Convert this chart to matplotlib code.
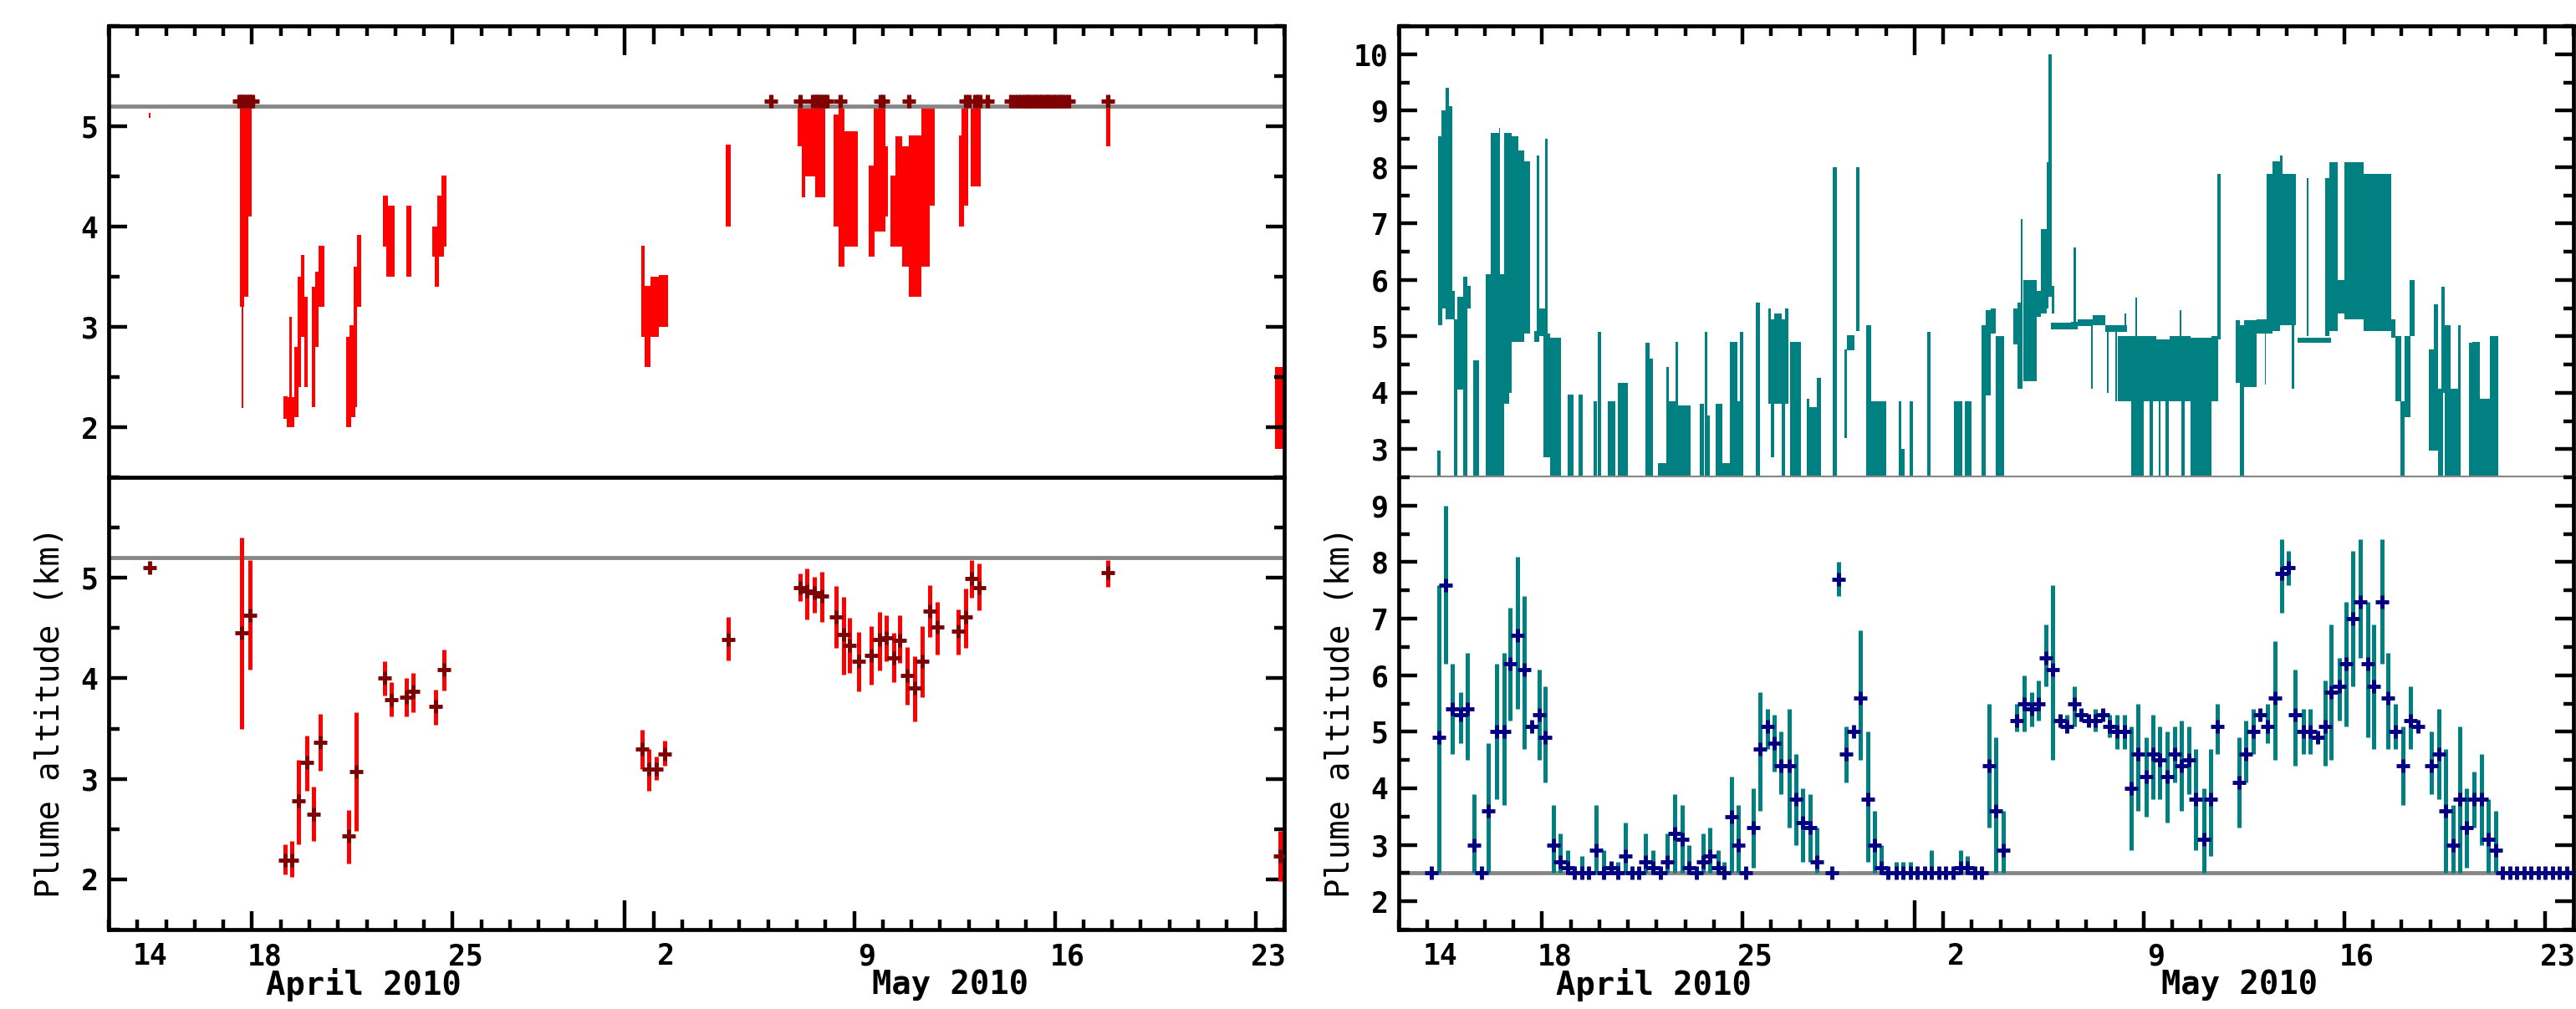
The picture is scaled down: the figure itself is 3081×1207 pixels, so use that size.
import numpy as np
import matplotlib
matplotlib.use('Agg')
from matplotlib import pyplot as plt
from matplotlib.ticker import MultipleLocator
import matplotlib.transforms as mtransforms

plt.rcParams['font.family'] = 'DejaVu Sans Mono'
plt.rcParams['font.weight'] = 'bold'

# time = days counted from 1 April 2010 00:00  (1 May = 31, 23 May = 53)
tick_days = [14, 18, 25, 31, 32, 39, 46, 53]
tick_labels = ['14', '18', '25', '', '2', '9', '16', '23']

# ---------------- left, top : retrieved altitude ranges (red) ----------------
lt_t0 = [14.40, 17.59, 17.63, 17.72, 17.87, 19.10, 19.22, 19.30, 19.47, 19.60,
         19.72, 19.82, 20.10, 20.20, 20.32, 21.27, 21.40, 21.55, 21.65, 22.57,
         22.68, 23.37, 24.28, 24.36, 24.47, 24.62, 31.57, 31.68, 31.90, 32.20,
         34.53, 37.03, 37.18, 37.30, 37.63, 38.27, 38.45, 38.67, 39.52, 39.68,
         40.01, 40.28, 40.43, 40.68, 40.90, 41.35, 41.65, 42.66, 42.76, 43.06,
         47.78, 53.67]
lt_t1 = [14.47, 17.72, 17.70, 17.87, 17.99, 19.25, 19.47, 19.40, 19.62, 19.72,
         19.82, 19.95, 20.20, 20.32, 20.52, 21.45, 21.60, 21.65, 21.80, 22.75,
         22.98, 23.57, 24.39, 24.51, 24.70, 24.77, 31.68, 31.90, 32.20, 32.52,
         34.70, 37.18, 37.30, 37.63, 38.00, 38.45, 38.67, 39.12, 39.71, 40.08,
         40.19, 40.46, 40.68, 40.90, 41.35, 41.65, 41.82, 42.84, 42.98, 43.43,
         47.93, 53.97]
lt_lo = [5.08, 3.2, 2.19, 3.3, 4.1, 2.08, 2.0, 2.3, 2.1, 2.4,
         2.9, 2.4, 2.2, 2.8, 3.2, 2.0, 2.1, 2.2, 3.2, 3.8,
         3.5, 3.5, 3.7, 3.4, 3.7, 3.8, 2.9, 2.6, 2.9, 3.0,
         4.0, 4.8, 4.29, 4.5, 4.29, 4.0, 3.6, 3.8, 3.7, 3.95,
         4.1, 3.8, 3.8, 3.6, 3.3, 3.6, 4.21, 4.0, 4.21, 4.4,
         4.8, 1.78]
lt_hi = [5.13, 5.2, 3.2, 5.2, 5.2, 2.31, 2.3, 3.1, 2.8, 3.5,
         3.72, 3.3, 3.4, 3.55, 3.81, 2.9, 3.02, 3.6, 3.92, 4.31,
         4.21, 4.21, 4.0, 4.0, 4.31, 4.51, 3.81, 3.41, 3.5, 3.52,
         4.82, 5.2, 5.2, 5.2, 5.2, 5.12, 5.2, 4.95, 4.61, 5.2,
         4.8, 4.51, 4.9, 4.8, 4.91, 5.2, 5.2, 4.91, 5.2, 5.2,
         5.2, 2.6]
# times where the retrieval hit the top of the range (plotted at cap level)
lt_cap_t = [17.55, 17.62, 17.70, 17.78, 17.86, 17.94, 18.02, 36.11, 37.11, 37.55,
            37.63, 37.71, 37.79, 37.87, 37.95, 38.05, 38.52, 39.93, 40.00, 40.90,
            42.88, 43.00, 43.21, 43.30, 43.40, 43.65, 44.47, 44.60, 44.72, 44.85,
            44.95, 45.05, 45.15, 45.25, 45.35, 45.45, 45.55, 45.65, 45.75, 45.85,
            45.95, 46.05, 46.15, 46.25, 46.35, 46.48, 47.85]
cap_level = 5.25
left_ref = 5.2

# ---------------- left, bottom : averages with error bars ----------------
lb_t = [14.42, 17.65, 17.92, 19.14, 19.40, 19.63, 19.90, 20.15, 20.37, 21.38,
        21.63, 22.63, 22.87, 23.39, 23.61, 24.39, 24.68, 31.60, 31.85, 32.09,
        32.39, 34.62, 37.11, 37.36, 37.60, 37.88, 38.37, 38.62, 38.85, 39.15,
        39.59, 39.89, 40.11, 40.38, 40.60, 40.86, 41.12, 41.38, 41.65, 41.90,
        42.64, 42.88, 43.10, 43.36, 47.85, 53.85]
lb_v = [5.10, 4.45, 4.63, 2.19, 2.19, 2.78, 3.16, 2.65, 3.36, 2.43,
        3.07, 4.00, 3.79, 3.81, 3.87, 3.72, 4.09, 3.30, 3.10, 3.10,
        3.25, 4.39, 4.90, 4.87, 4.85, 4.82, 4.61, 4.44, 4.33, 4.17,
        4.23, 4.39, 4.40, 4.20, 4.38, 4.03, 3.90, 4.17, 4.67, 4.51,
        4.47, 4.61, 4.99, 4.90, 5.05, 2.23]
lb_hi = [5.10, 5.40, 5.18, 2.35, 2.38, 3.19, 3.43, 2.92, 3.65, 2.69,
         3.66, 4.17, 3.96, 4.00, 4.05, 3.89, 4.29, 3.49, 3.30, 3.22,
         3.38, 4.61, 5.04, 5.09, 5.01, 5.06, 4.92, 4.81, 4.60, 4.46,
         4.52, 4.66, 4.63, 4.45, 4.63, 4.31, 4.22, 4.52, 4.93, 4.76,
         4.69, 4.89, 5.18, 5.14, 5.18, 2.48]
lb_lo = [5.10, 3.50, 4.09, 2.05, 2.02, 2.35, 2.88, 2.38, 3.08, 2.16,
         2.48, 3.83, 3.62, 3.62, 3.66, 3.54, 3.88, 3.10, 2.88, 2.99,
         3.13, 4.18, 4.77, 4.59, 4.65, 4.56, 4.30, 4.04, 4.05, 3.87,
         3.94, 4.08, 4.17, 3.96, 4.15, 3.74, 3.57, 3.81, 4.41, 4.24,
         4.24, 4.30, 4.80, 4.68, 4.91, 1.98]

# ---------------- right, top : retrieved altitude ranges (teal) ----------------
rt_t0 = [14.33, 14.36, 14.48, 14.63, 14.75, 14.87, 14.93, 15.05, 15.26, 15.38,
         15.60, 16.04, 16.22, 16.49, 16.49, 16.67, 16.86, 16.94, 17.16, 17.38,
         17.72, 17.82, 17.90, 18.12, 18.05, 18.28, 18.91, 19.28, 19.80, 19.95,
         20.31, 20.65, 21.61, 21.76, 22.06, 22.33, 22.43, 22.65, 22.76, 23.51,
         23.69, 23.78, 24.07, 24.29, 24.56, 24.81, 24.92, 25.45, 25.89, 26.00,
         26.11, 26.38, 26.49, 26.67, 27.23, 27.34, 27.58, 28.15, 28.55, 28.64,
         28.97, 29.31, 29.49, 30.45, 30.55, 30.82, 31.45, 32.38, 32.75, 33.35,
         33.50, 33.65, 33.83, 34.46, 34.61, 34.70, 34.81, 34.99, 35.28, 35.40,
         35.61, 35.68, 35.80, 35.76, 36.47, 36.55, 36.70, 37.15, 37.22, 37.66,
         37.72, 38.02, 38.33, 38.11, 38.56, 38.70, 39.00, 39.22, 39.45, 39.52,
         39.75, 39.90, 40.25, 40.33, 40.64, 41.38, 41.58, 42.20, 42.35, 42.50,
         42.95, 43.22, 43.29, 43.50, 43.75, 43.85, 44.18, 44.36, 44.68, 45.33,
         45.48, 45.78, 46.00, 46.67, 47.63, 47.78, 47.97, 48.10, 48.28, 48.95,
         49.12, 49.27, 49.38, 49.50, 49.72, 49.97, 50.34, 50.46, 50.73, 51.09]
rt_t1 = [14.45, 14.51, 14.66, 14.75, 14.87, 14.96, 15.05, 15.26, 15.38, 15.50,
         15.79, 16.22, 16.49, 16.67, 16.54, 16.86, 16.94, 17.16, 17.38, 17.58,
         17.82, 17.90, 18.12, 18.20, 18.28, 18.65, 19.09, 19.41, 19.92, 20.05,
         20.57, 20.99, 21.76, 21.88, 22.33, 22.43, 22.65, 22.76, 23.18, 23.66,
         23.78, 23.87, 24.29, 24.56, 24.81, 24.92, 25.03, 25.60, 26.00, 26.11,
         26.38, 26.49, 26.60, 27.04, 27.34, 27.58, 27.73, 28.28, 28.64, 28.91,
         29.07, 29.49, 30.01, 30.55, 30.67, 30.94, 31.57, 32.68, 32.98, 33.50,
         33.65, 33.83, 34.14, 34.61, 34.76, 34.78, 34.99, 35.28, 35.40, 35.61,
         35.68, 35.80, 35.88, 36.47, 36.70, 36.65, 37.22, 37.21, 37.66, 38.41,
         37.78, 38.08, 38.40, 38.56, 39.00, 38.76, 39.45, 39.32, 39.90, 39.60,
         39.88, 40.64, 40.32, 40.42, 41.38, 41.60, 41.70, 42.35, 42.50, 42.95,
         43.30, 43.27, 43.50, 43.75, 43.85, 44.30, 44.26, 45.55, 44.74, 45.48,
         45.78, 46.00, 46.67, 47.63, 47.78, 48.00, 48.10, 48.30, 48.45, 49.12,
         49.27, 49.45, 49.50, 49.72, 50.05, 50.05, 50.46, 50.73, 51.09, 51.39]
rt_lo = [2.5, 5.2, 5.5, 5.3, 5.3, 5.3, 2.5, 4.05, 2.5, 5.5,
         2.5, 2.5, 2.5, 2.5, 6.1, 3.8, 4.0, 4.9, 4.9, 5.05,
         4.9, 4.9, 5.0, 5.0, 2.85, 2.5, 2.5, 2.5, 2.5, 2.5,
         2.5, 2.5, 2.5, 2.5, 2.5, 2.5, 2.5, 2.5, 2.5, 2.5,
         2.5, 2.5, 2.5, 2.5, 2.5, 2.5, 2.5, 2.5, 3.8, 2.85,
         3.8, 2.5, 3.8, 2.5, 2.5, 2.5, 2.5, 2.5, 3.2, 4.75,
         5.1, 2.5, 2.5, 2.5, 2.5, 2.5, 2.5, 2.5, 2.5, 2.5,
         3.95, 5.05, 2.5, 4.85, 4.07, 5.6, 4.2, 4.2, 5.35, 5.4,
         5.5, 5.7, 5.4, 5.12, 5.12, 5.12, 5.18, 4.07, 5.2, 5.08,
         4.0, 3.85, 5.2, 3.85, 2.5, 5.0, 3.85, 2.5, 3.85, 2.5,
         2.5, 3.85, 5.0, 2.5, 2.5, 3.85, 4.95, 4.17, 2.5, 4.1,
         5.05, 4.15, 5.05, 5.1, 5.2, 5.2, 4.07, 4.88, 5.0, 5.0,
         5.1, 5.4, 5.3, 5.1, 4.97, 3.85, 2.5, 3.56, 5.0, 2.97,
         2.97, 2.5, 4.0, 2.5, 2.5, 2.5, 2.5, 2.5, 2.5, 2.5]
rt_hi = [2.97, 8.55, 9.0, 9.4, 9.08, 5.8, 5.3, 5.7, 6.05, 5.9,
         4.58, 6.1, 8.6, 6.1, 8.7, 8.6, 8.6, 8.55, 8.3, 8.1,
         5.1, 8.2, 5.5, 8.5, 5.05, 4.97, 3.97, 3.97, 3.85, 5.08,
         3.85, 4.17, 4.88, 4.6, 2.75, 4.46, 3.85, 4.9, 3.77, 3.8,
         5.08, 3.6, 3.8, 2.75, 4.9, 3.85, 5.08, 5.6, 5.5, 5.3,
         5.4, 5.3, 5.5, 4.9, 3.9, 3.75, 4.27, 8.0, 4.77, 5.02,
         8.0, 5.2, 3.85, 3.85, 3.0, 3.85, 5.08, 3.85, 3.85, 5.2,
         5.47, 5.5, 5.0, 5.5, 5.6, 7.08, 6.0, 6.0, 5.8, 6.9,
         8.08, 10.0, 5.9, 5.24, 5.26, 6.58, 5.3, 5.18, 5.38, 5.2,
         5.08, 5.08, 5.4, 5.0, 5.0, 5.68, 5.0, 3.85, 4.95, 3.85,
         3.85, 5.0, 5.47, 3.85, 4.98, 5.0, 7.88, 5.28, 5.2, 5.28,
         5.3, 5.05, 7.88, 8.1, 8.2, 7.88, 5.2, 4.98, 7.8, 7.8,
         8.08, 6.0, 8.08, 7.88, 5.3, 5.0, 3.85, 5.0, 6.0, 4.77,
         5.57, 4.07, 5.88, 5.2, 4.07, 5.2, 4.88, 4.9, 3.9, 5.0]
right_ref = 2.5

# ---------------- right, bottom : averages with error bars ----------------
rb_t = [14.14, 14.40, 14.63, 14.88, 15.15, 15.40, 15.64, 15.89, 16.12, 16.41,
        16.67, 16.89, 17.13, 17.38, 17.63, 17.90, 18.12, 18.39, 18.64, 18.89,
        19.13, 19.38, 19.63, 19.90, 20.15, 20.40, 20.65, 20.90, 21.14, 21.39,
        21.62, 21.88, 22.13, 22.38, 22.62, 22.88, 23.13, 23.39, 23.62, 23.87,
        24.14, 24.36, 24.61, 24.86, 25.10, 25.37, 25.62, 25.88, 26.10, 26.34,
        26.64, 26.86, 27.11, 27.36, 27.60, 28.12, 28.35, 28.60, 28.87, 29.12,
        29.37, 29.61, 29.84, 30.08, 30.35, 30.60, 30.85, 31.10, 31.35, 31.60,
        31.85, 32.10, 32.35, 32.60, 32.85, 33.10, 33.35, 33.60, 33.84, 34.09,
        34.58, 34.84, 35.09, 35.33, 35.58, 35.83, 36.07, 36.32, 36.58, 36.82,
        37.07, 37.32, 37.56, 37.81, 38.07, 38.33, 38.56, 38.81, 39.08, 39.33,
        39.57, 39.82, 40.07, 40.31, 40.57, 40.82, 41.09, 41.34, 41.56, 42.32,
        42.57, 42.83, 43.07, 43.32, 43.57, 43.81, 44.06, 44.29, 44.58, 44.81,
        45.06, 45.33, 45.55, 45.82, 46.07, 46.30, 46.56, 46.82, 47.04, 47.31,
        47.53, 47.78, 48.05, 48.30, 48.56, 49.05, 49.30, 49.54, 49.79, 50.04,
        50.28, 50.54, 50.79, 51.03, 51.28, 51.53, 51.78, 52.03, 52.28, 52.52,
        52.77, 53.02, 53.26, 53.51, 53.76]
rb_v = [2.5, 4.9, 7.6, 5.4, 5.3, 5.4, 3.0, 2.5, 3.6, 5.0,
        5.0, 6.2, 6.7, 6.1, 5.1, 5.3, 4.9, 3.0, 2.7, 2.6,
        2.5, 2.5, 2.5, 2.9, 2.5, 2.6, 2.5, 2.8, 2.5, 2.5,
        2.7, 2.6, 2.5, 2.7, 3.2, 3.1, 2.6, 2.5, 2.7, 2.8,
        2.6, 2.5, 3.5, 3.0, 2.5, 3.3, 4.7, 5.1, 4.8, 4.4,
        4.4, 3.8, 3.4, 3.3, 2.7, 2.5, 7.7, 4.6, 5.0, 5.6,
        3.8, 3.0, 2.6, 2.5, 2.5, 2.5, 2.5, 2.5, 2.5, 2.5,
        2.5, 2.5, 2.5, 2.6, 2.6, 2.5, 2.5, 4.4, 3.6, 2.9,
        5.2, 5.5, 5.4, 5.5, 6.3, 6.1, 5.2, 5.1, 5.5, 5.3,
        5.2, 5.2, 5.3, 5.1, 5.0, 5.0, 4.0, 4.6, 4.2, 4.6,
        4.5, 4.2, 4.6, 4.4, 4.5, 3.8, 3.1, 3.8, 5.1, 4.1,
        4.6, 5.0, 5.3, 5.1, 5.6, 7.8, 7.9, 5.3, 5.0, 5.0,
        4.9, 5.1, 5.7, 5.8, 6.2, 7.0, 7.3, 6.2, 5.8, 7.3,
        5.6, 5.0, 4.4, 5.2, 5.1, 4.4, 4.6, 3.6, 3.0, 3.8,
        3.3, 3.8, 3.8, 3.1, 2.9, 2.5, 2.5, 2.5, 2.5, 2.5,
        2.5, 2.5, 2.5, 2.5, 2.5]
rb_hi = [2.5, 7.6, 9.0, 6.2, 5.7, 6.4, 3.9, 2.5, 4.8, 6.2,
         6.4, 7.2, 8.1, 7.4, 5.1, 6.1, 5.8, 3.7, 3.2, 2.9,
         2.5, 2.8, 2.5, 3.7, 2.9, 2.7, 2.7, 3.4, 2.5, 2.5,
         3.2, 2.9, 2.5, 3.2, 3.9, 3.7, 3.0, 2.5, 3.2, 3.3,
         2.9, 2.7, 4.2, 3.7, 2.5, 4.0, 5.7, 5.4, 5.3, 5.0,
         5.4, 4.6, 4.0, 3.9, 3.3, 2.5, 8.0, 5.1, 5.0, 6.8,
         5.0, 3.6, 3.0, 2.5, 2.7, 2.7, 2.7, 2.5, 2.5, 2.9,
         2.5, 2.5, 2.5, 2.9, 2.8, 2.5, 2.5, 5.5, 4.9, 3.6,
         5.5, 6.0, 5.7, 5.9, 6.9, 7.6, 5.3, 5.3, 5.8, 5.4,
         5.3, 5.4, 5.4, 5.3, 5.3, 5.3, 5.1, 5.5, 4.9, 5.3,
         5.1, 5.0, 5.1, 5.2, 5.1, 4.7, 4.0, 4.7, 5.5, 4.9,
         5.2, 5.4, 5.4, 5.5, 6.6, 8.4, 8.2, 6.1, 5.4, 5.4,
         5.0, 5.9, 6.9, 6.3, 7.3, 8.2, 8.4, 7.3, 6.9, 8.4,
         6.4, 5.5, 5.1, 5.8, 5.1, 5.0, 5.4, 4.7, 3.7, 5.1,
         4.0, 4.3, 4.6, 3.8, 3.6, 2.5, 2.5, 2.5, 2.5, 2.5,
         2.5, 2.5, 2.5, 2.5, 2.5]
rb_lo = [2.5, 2.5, 6.2, 4.6, 4.8, 4.5, 2.5, 2.5, 2.5, 3.8,
         3.7, 5.2, 5.4, 4.7, 5.1, 4.5, 4.1, 2.5, 2.5, 2.5,
         2.5, 2.5, 2.5, 2.5, 2.5, 2.5, 2.5, 2.5, 2.5, 2.5,
         2.5, 2.5, 2.5, 2.5, 2.5, 2.5, 2.5, 2.5, 2.5, 2.5,
         2.5, 2.5, 2.5, 2.5, 2.5, 2.6, 3.6, 4.7, 4.3, 3.9,
         3.3, 3.0, 2.7, 2.7, 2.5, 2.5, 7.4, 4.1, 5.0, 4.5,
         2.7, 2.5, 2.5, 2.5, 2.5, 2.5, 2.5, 2.5, 2.5, 2.5,
         2.5, 2.5, 2.5, 2.5, 2.5, 2.5, 2.5, 3.3, 2.5, 2.5,
         5.0, 5.0, 5.1, 5.2, 5.8, 4.5, 5.1, 5.0, 5.1, 5.2,
         5.1, 5.0, 5.2, 4.9, 4.7, 4.7, 2.9, 3.6, 3.5, 3.8,
         3.8, 3.4, 4.1, 3.6, 3.9, 2.9, 2.5, 2.8, 4.6, 3.3,
         4.1, 4.6, 5.2, 4.8, 4.5, 7.1, 7.6, 4.4, 4.6, 4.6,
         4.8, 4.4, 4.5, 5.2, 5.1, 5.8, 6.3, 4.9, 4.7, 6.2,
         4.7, 4.7, 3.7, 4.7, 5.1, 3.9, 3.8, 2.5, 2.5, 2.5,
         2.6, 3.3, 3.0, 2.5, 2.5, 2.5, 2.5, 2.5, 2.5, 2.5,
         2.5, 2.5, 2.5, 2.5, 2.5]

RED = '#ff0000'
DARKRED = '#7f0000'
TEAL = '#008080'
NAVY = '#000080'
GREY = '#878787'

fig = plt.figure(figsize=(30.81, 12.07), dpi=100)
ax_lt = fig.add_axes([0.0422, 0.5269, 0.4563, 0.4474])
ax_lb = fig.add_axes([0.0422, 0.0787, 0.4563, 0.4482])
ax_rt = fig.add_axes([0.5430, 0.5269, 0.4560, 0.4474])
ax_rb = fig.add_axes([0.5430, 0.0787, 0.4560, 0.4482])


def setup(ax, ylo, yhi, ymaj, top_panel):
    ax.set_xlim(13, 54)
    ax.set_ylim(ylo, yhi)
    ax.set_yticks(ymaj)
    ax.yaxis.set_minor_locator(MultipleLocator(0.5))
    ax.set_xticks(tick_days)
    ax.set_xticklabels(tick_labels)
    ax.xaxis.set_minor_locator(MultipleLocator(1))
    ax.tick_params(which='both', direction='in', width=3.2, color='black')
    ax.tick_params(axis='y', which='major', length=16, left=True, right=True,
                   labelsize=25, pad=9)
    ax.tick_params(axis='y', which='minor', length=9, left=True, right=True)
    ax.tick_params(axis='x', which='major', length=16, labelsize=25, pad=11)
    ax.tick_params(axis='x', which='minor', length=8.5)
    if top_panel:
        ax.tick_params(axis='x', which='both', top=True, bottom=False, labelbottom=False)
    else:
        ax.tick_params(axis='x', which='both', top=False, bottom=True, labelbottom=True)
    for tk, d in zip(ax.xaxis.get_major_ticks(), tick_days):
        L = 8.5 if d == 14 else (25 if d == 31 else 16)
        tk.tick1line.set_markersize(L)
        tk.tick2line.set_markersize(L)
    for s in ax.spines.values():
        s.set_linewidth(3.4)
    # labels sit at mid-day
    off = mtransforms.ScaledTranslation(0.15, 0, fig.dpi_scale_trans)
    for lab in ax.get_xticklabels():
        lab.set_transform(lab.get_transform() + off)


# left top
ax_lt.bar(lt_t0, np.subtract(lt_hi, lt_lo), width=np.subtract(lt_t1, lt_t0),
          bottom=lt_lo, align='edge', color=RED, linewidth=0, zorder=1)
ax_lt.axhline(left_ref, color=GREY, lw=3.5, zorder=2)
ax_lt.plot(lt_cap_t, [cap_level] * len(lt_cap_t), '+', color=DARKRED,
           ms=12, mew=3.8, zorder=3)
setup(ax_lt, 1.5, 6.0, [2, 3, 4, 5], True)

# left bottom
ax_lb.axhline(left_ref, color=GREY, lw=3.5, zorder=1)
ax_lb.vlines(lb_t, lb_lo, lb_hi, color=RED, lw=3.6, zorder=2)
ax_lb.plot(lb_t, lb_v, '+', color=DARKRED, ms=11, mew=3.5, zorder=3)
setup(ax_lb, 1.5, 6.0, [2, 3, 4, 5], False)

# right top
ax_rt.bar(rt_t0, np.subtract(rt_hi, rt_lo), width=np.subtract(rt_t1, rt_t0),
          bottom=rt_lo, align='edge', color=TEAL, linewidth=0, zorder=1)
ax_rt.axhline(right_ref, color=GREY, lw=3.8, zorder=4, clip_on=False)
setup(ax_rt, 2.5, 10.5, list(range(3, 11)), True)
ax_rt.spines['bottom'].set_visible(False)

# right bottom
ax_rb.axhline(right_ref, color=GREY, lw=3.5, zorder=1)
ax_rb.vlines(rb_t, rb_lo, rb_hi, color=TEAL, lw=3.6, zorder=2)
ax_rb.plot(rb_t, rb_v, '+', color=NAVY, ms=11, mew=3.5, zorder=3)
setup(ax_rb, 1.5, 9.5, list(range(2, 10)), False)
ax_rb.spines['top'].set_visible(False)

for ax in (ax_lb, ax_rb):
    ax.set_ylabel('Plume altitude (km)', fontsize=28)
    ax.yaxis.set_label_coords(-0.036, 0.48)
    tr = ax.get_xaxis_transform()
    ax.text(21.9, -0.122, 'April 2010', transform=tr, ha='center', va='center', fontsize=28)
    ax.text(42.35, -0.122, 'May 2010', transform=tr, ha='center', va='center', fontsize=28)

fig.savefig('out.png', dpi=100)
